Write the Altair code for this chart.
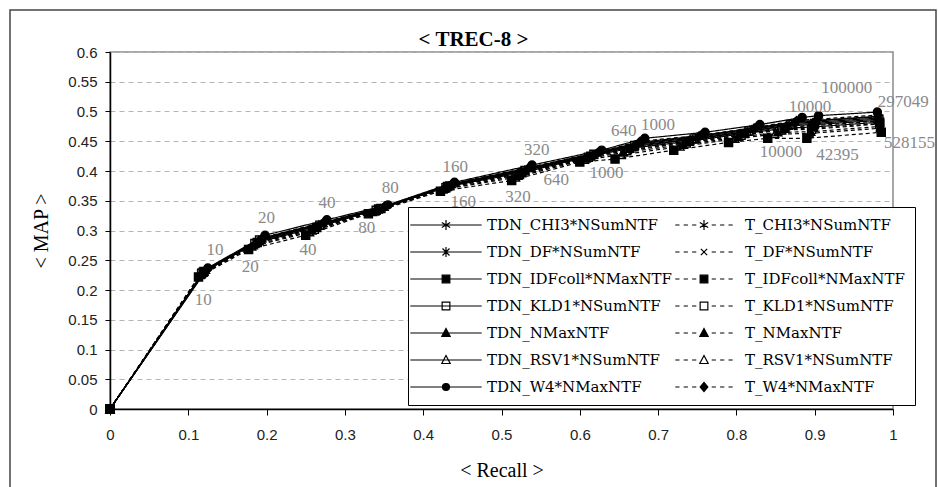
import altair as alt
import pandas as pd

# ---------------- data ----------------
TDN_SERIES = ["TDN_CHI3*NSumNTF", "TDN_DF*NSumNTF", "TDN_IDFcoll*NMaxNTF", "TDN_KLD1*NSumNTF",
              "TDN_NMaxNTF", "TDN_RSV1*NSumNTF", "TDN_W4*NMaxNTF"]
T_SERIES = ["T_CHI3*NSumNTF", "T_DF*NSumNTF", "T_IDFcoll*NMaxNTF", "T_KLD1*NSumNTF",
            "T_NMaxNTF", "T_RSV1*NSumNTF", "T_W4*NMaxNTF"]
SERIES = TDN_SERIES + T_SERIES

# cutoffs: 0, 10, 20, 40, 80, 160, 320, 640, 1000, 4000, 7000, 10000, 100000, max
R_TDN_CHI3 = [0, .121, .192, .269, .348, .435, .531, .620, .672, .748, .818, .871, .900, .982]
M_TDN_CHI3 = [0, .232, .285, .310, .338, .376, .402, .429, .445, .456, .469, .480, .482, .489]
R_T_CHI3 = [0, .119, .189, .265, .344, .432, .527, .615, .666, .742, .812, .864, .898, .982]
M_T_CHI3 = [0, .230, .281, .306, .336, .374, .398, .426, .439, .451, .464, .474, .476, .484]
R_TDN_DF = [0, .122, .193, .270, .349, .436, .533, .621, .674, .750, .820, .873, .901, .981]
M_TDN_DF = [0, .233, .286, .312, .339, .377, .404, .430, .446, .458, .471, .481, .484, .491]
R_T_DF = [0, .118, .186, .262, .341, .430, .525, .613, .662, .738, .808, .860, .897, .983]
M_T_DF = [0, .229, .279, .304, .335, .373, .396, .424, .436, .448, .461, .471, .472, .480]
R_TDN_IDF = [0, .119, .188, .264, .343, .431, .526, .614, .664, .740, .810, .862, .898, .983]
M_TDN_IDF = [0, .230, .280, .305, .336, .374, .397, .425, .438, .450, .463, .472, .474, .482]
R_T_IDF = [0, .113, .177, .250, .330, .422, .513, .600, .645, .720, .790, .840, .890, .985]
M_T_IDF = [0, .222, .268, .292, .328, .366, .384, .415, .420, .435, .448, .455, .455, .465]
R_TDN_KLD1 = [0, .120, .191, .268, .346, .434, .530, .618, .670, .746, .816, .869, .900, .982]
M_TDN_KLD1 = [0, .231, .284, .309, .337, .375, .401, .428, .443, .454, .467, .478, .480, .487]
R_T_KLD1 = [0, .117, .185, .261, .340, .429, .523, .611, .660, .736, .806, .858, .896, .983]
M_T_KLD1 = [0, .228, .278, .302, .334, .372, .394, .423, .434, .447, .460, .469, .470, .479]
R_TDN_NMAX = [0, .122, .194, .272, .350, .436, .534, .622, .675, .752, .822, .875, .902, .981]
M_TDN_NMAX = [0, .234, .287, .313, .340, .378, .405, .431, .448, .459, .472, .483, .485, .492]
R_T_NMAX = [0, .116, .183, .258, .338, .427, .521, .608, .656, .732, .802, .853, .895, .984]
M_T_NMAX = [0, .226, .275, .300, .332, .370, .392, .421, .431, .444, .457, .465, .466, .475]
R_TDN_RSV1 = [0, .120, .190, .266, .345, .433, .529, .617, .668, .744, .814, .866, .899, .982]
M_TDN_RSV1 = [0, .231, .282, .308, .337, .375, .400, .427, .441, .453, .466, .476, .478, .485]
R_T_RSV1 = [0, .115, .181, .255, .335, .425, .518, .606, .653, .728, .798, .849, .893, .984]
M_T_RSV1 = [0, .225, .273, .297, .331, .369, .389, .419, .427, .441, .454, .462, .463, .472]
R_TDN_W4 = [0, .125, .198, .277, .355, .440, .539, .628, .683, .760, .830, .884, .905, .980]
M_TDN_W4 = [0, .237, .292, .318, .343, .381, .410, .435, .455, .465, .478, .490, .493, .499]
R_T_W4 = [0, .123, .195, .273, .351, .437, .535, .624, .677, .754, .824, .877, .903, .981]
M_T_W4 = [0, .235, .288, .314, .341, .379, .406, .432, .450, .460, .473, .485, .487, .494]

UPPER_TEXT = ["10", "20", "40", "80", "160", "320", "640", "1000", "10000", "100000", "297049"]
UPPER_X = [.134, .200, .277, .358, .441, .545, .656, .700, .894, .941, 1.013]
UPPER_Y = [.267, .321, .346, .371, .406, .435, .467, .477, .508, .539, .516]
LOWER_TEXT = ["10", "20", "40", "80", "160", "320", "640", "1000", "10000", "42395", "528155"]
LOWER_X = [.119, .179, .253, .328, .451, .521, .570, .634, .857, .929, 1.021]
LOWER_Y = [.183, .239, .267, .304, .348, .356, .385, .397, .432, .427, .447]

X_TICKS = [0, 0.1, 0.2, 0.3, 0.4, 0.5, 0.6, 0.7, 0.8, 0.9, 1]
Y_TICKS = [0, 0.05, 0.1, 0.15, 0.2, 0.25, 0.3, 0.35, 0.4, 0.45, 0.5, 0.55, 0.6]

PAIRS = {
    "TDN_CHI3*NSumNTF": (R_TDN_CHI3, M_TDN_CHI3),
    "T_CHI3*NSumNTF": (R_T_CHI3, M_T_CHI3),
    "TDN_DF*NSumNTF": (R_TDN_DF, M_TDN_DF),
    "T_DF*NSumNTF": (R_T_DF, M_T_DF),
    "TDN_IDFcoll*NMaxNTF": (R_TDN_IDF, M_TDN_IDF),
    "T_IDFcoll*NMaxNTF": (R_T_IDF, M_T_IDF),
    "TDN_KLD1*NSumNTF": (R_TDN_KLD1, M_TDN_KLD1),
    "T_KLD1*NSumNTF": (R_T_KLD1, M_T_KLD1),
    "TDN_NMaxNTF": (R_TDN_NMAX, M_TDN_NMAX),
    "T_NMaxNTF": (R_T_NMAX, M_T_NMAX),
    "TDN_RSV1*NSumNTF": (R_TDN_RSV1, M_TDN_RSV1),
    "T_RSV1*NSumNTF": (R_T_RSV1, M_T_RSV1),
    "TDN_W4*NMaxNTF": (R_TDN_W4, M_TDN_W4),
    "T_W4*NMaxNTF": (R_T_W4, M_T_W4),
}

rows = []
for name in SERIES:
    rr, mm = PAIRS[name]
    for i, (r, m) in enumerate(zip(rr, mm)):
        rows.append({"series": name, "idx": i, "recall": r, "map": m})
df = pd.DataFrame(rows)

upper = pd.DataFrame({"txt": UPPER_TEXT, "lx": UPPER_X, "ly": UPPER_Y})
lower = pd.DataFrame({"txt": LOWER_TEXT, "lx": LOWER_X, "ly": LOWER_Y})

# ---------------- styles (order follows SERIES) ----------------
AST = "M0,-1L0,1M-0.87,-0.5L0.87,0.5M-0.87,0.5L0.87,-0.5"
XBAR = "M-0.75,-0.75L0.75,0.75M-0.75,0.75L0.75,-0.75M0,-1L0,1"
XX = "M-0.75,-0.75L0.75,0.75M-0.75,0.75L0.75,-0.75"
DATA_SHAPES = [AST, XBAR, "square", "square", "triangle-up", "triangle-up", "circle",
               AST, XX, "square", "square", "triangle-up", "triangle-up", "diamond"]
FILLS = ["transparent", "transparent", "black", "transparent", "black", "transparent", "black"] * 2
DASHES = [[1, 0]] * 7 + [[4, 3]] * 7

SOLID = "M-5.1,0L5.1,0"
DASHED = "M-4.1,0L-3.5,0M-2.9,0L-2.3,0M-1.7,0L-1.1,0M1.1,0L1.7,0M2.3,0L2.9,0M3.5,0L4.1,0"
MK_AST = "M0,-0.7L0,0.7M-0.6,-0.35L0.6,0.35M-0.6,0.35L0.6,-0.35"
MK_XBAR = "M-0.5,-0.5L0.5,0.5M-0.5,0.5L0.5,-0.5M0,-0.7L0,0.7"
MK_X = "M-0.45,-0.45L0.45,0.45M-0.45,0.45L0.45,-0.45"
MK_SQ = "M-0.55,-0.55L0.55,-0.55L0.55,0.55L-0.55,0.55Z"
MK_TRI = "M0,-0.65L0.6,0.5L-0.6,0.5Z"
MK_CIRC = "M-0.5,0A0.5,0.5,0,1,0,0.5,0A0.5,0.5,0,1,0,-0.5,0Z"
MK_DIA = "M0,-0.65L0.55,0L0,0.65L-0.55,0Z"
LEG_SHAPES = [
    SOLID + MK_AST, SOLID + MK_XBAR, SOLID + MK_SQ, SOLID + MK_SQ,
    SOLID + MK_TRI, SOLID + MK_TRI, SOLID + MK_CIRC,
    DASHED + MK_AST, DASHED + MK_X, DASHED + MK_SQ, DASHED + MK_SQ,
    DASHED + MK_TRI, DASHED + MK_TRI, DASHED + MK_DIA,
]

SERIF = "Liberation Serif"
SANS = "Liberation Sans"

x_axis = alt.Axis(values=X_TICKS, format="~g", grid=False, title="< Recall >",
                  titleFont=SERIF, titleFontSize=20, titleFontWeight="normal",
                  titleColor="black", titlePadding=18,
                  labelFont=SANS, labelFontSize=15, labelColor="#222",
                  labelPadding=12, labelFlush=False, labelOverlap=False,
                  tickSize=6, tickColor="black", domainColor="black", domainWidth=1.5)
y_axis = alt.Axis(values=Y_TICKS, format="~g", grid=True, gridColor="#b5b5b5",
                  gridDash=[5, 4], title="< MAP >",
                  titleFont=SERIF, titleFontSize=20, titleFontWeight="normal",
                  titleColor="black", titlePadding=16,
                  labelFont=SANS, labelFontSize=15, labelColor="#222",
                  labelPadding=8, labelOverlap=False,
                  tickSize=5, tickColor="black", domainColor="black", domainWidth=1.5)

XS = alt.Scale(domain=[0, 1], nice=False, zero=False)
YS = alt.Scale(domain=[0, 0.6], nice=False)
X = alt.X("recall:Q", scale=XS, axis=x_axis)
Y = alt.Y("map:Q", scale=YS, axis=y_axis)

frame = alt.Chart(pd.DataFrame({"k": [0]})).mark_rect(
    fillOpacity=0, stroke="#444", strokeWidth=1.5
).encode(x=alt.value(-100), x2=alt.value(826), y=alt.value(-42), y2=alt.value(445))

lines = alt.Chart(df).mark_line(strokeWidth=1.2, color="black").encode(
    x=X, y=Y, detail="series:N", order="idx:Q",
    strokeDash=alt.StrokeDash("series:N", scale=alt.Scale(domain=SERIES, range=DASHES), legend=None),
)

points = alt.Chart(df).mark_point(stroke="black", strokeWidth=1.4, size=65, opacity=1).encode(
    x=X, y=Y,
    shape=alt.Shape("series:N", scale=alt.Scale(domain=SERIES, range=DATA_SHAPES), legend=None),
    fill=alt.Fill("series:N", scale=alt.Scale(domain=SERIES, range=FILLS), legend=None),
)

txt_style = dict(font=SERIF, fontSize=17, color="#8a8a8a", align="center", baseline="middle")
up_txt = alt.Chart(upper).mark_text(**txt_style).encode(
    x=alt.X("lx:Q", scale=XS, axis=x_axis), y=alt.Y("ly:Q", scale=YS, axis=y_axis), text="txt:N")
lo_txt = alt.Chart(lower).mark_text(**txt_style).encode(
    x=alt.X("lx:Q", scale=XS, axis=x_axis), y=alt.Y("ly:Q", scale=YS, axis=y_axis), text="txt:N")

LEG = alt.Legend(title=None, orient="none", legendX=298, legendY=155, columns=2,
                 columnPadding=0, rowPadding=11, padding=10,
                 fillColor="white", strokeColor="black",
                 labelFont="DejaVu Serif", labelFontSize=15, labelColor="black", labelLimit=400,
                 symbolSize=196, symbolOffset=20, labelOffset=33,
                 symbolStrokeColor="black", symbolStrokeWidth=1.2, symbolOpacity=1)

legend_layer = alt.Chart(df).transform_filter("datum.idx < 0").mark_point(
    stroke="black", strokeWidth=1.2, size=196, opacity=1
).encode(
    x=X, y=Y,
    shape=alt.Shape("series:N", scale=alt.Scale(domain=SERIES, range=LEG_SHAPES), legend=LEG),
    fill=alt.Fill("series:N", scale=alt.Scale(domain=SERIES, range=FILLS), legend=LEG),
    stroke=alt.Stroke("series:N", scale=alt.Scale(domain=SERIES, range=["black"] * 14), legend=LEG),
)

chart = alt.layer(frame, lines, points, up_txt, lo_txt, legend_layer).resolve_scale(
    shape="independent", fill="independent", stroke="independent", strokeDash="independent"
).properties(
    width=783, height=357,
    title=alt.TitleParams("< TREC-8 >", font=SERIF, fontSize=21, fontWeight="bold",
                          color="black", anchor="middle", dx=-28, dy=45, offset=4),
    autosize=alt.AutoSizeParams(type="none"),
    padding={"left": 110, "top": 52, "right": 45, "bottom": 78},
).configure(background="white").configure_view(stroke="#8a8a8a", strokeWidth=1.5)

chart.save("out.html", embed_options={"renderer": "svg", "actions": False})
